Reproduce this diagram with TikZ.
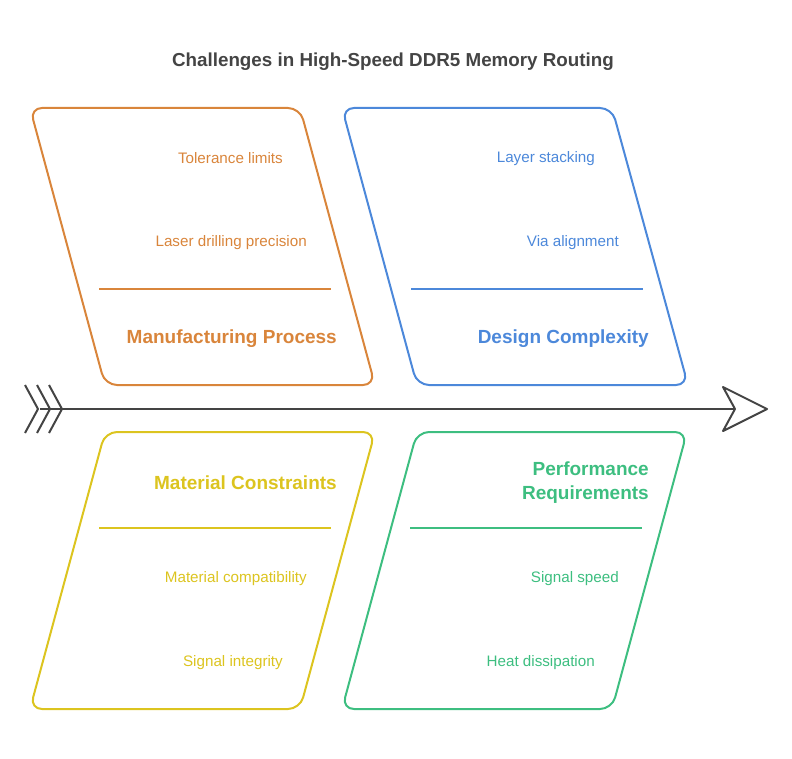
\documentclass[tikz,border=0pt]{standalone}
\usepackage{fontspec}
\setmainfont{Liberation Sans}
\usetikzlibrary{arrows.meta}
\definecolor{mfgcol}{HTML}{D9853B}
\definecolor{descol}{HTML}{4C88DA}
\definecolor{matcol}{HTML}{DCC41F}
\definecolor{perfcol}{HTML}{3DBE80}
\definecolor{spinecol}{HTML}{444444}

\begin{document}
\begin{tikzpicture}[x=1pt,y=-1pt,line join=round,
  every node/.style={font=\fontsize{15.2}{18}\selectfont},
  frame/.style={line width=2pt,rounded corners=12pt},
  rule/.style={line width=1.8pt},
  item/.style={anchor=east,inner sep=0pt,yshift=-1.5pt},
  head/.style={item,align=right,font=\fontsize{19}{24}\selectfont\bfseries}]
  \useasboundingbox (0,0) rectangle (792,759);

  \node[font=\fontsize{18.8}{22}\selectfont\bfseries,text=spinecol] (title) at (393,62)
    {Challenges in High-Speed DDR5 Memory Routing};

  % spine
  \coordinate (tail) at (40,409);
  \coordinate (tip) at (735,409);
  \draw[spinecol,line width=2pt] (tail) -- (tip);
  \draw[spinecol,line width=2pt] (tip) -- (723,387) -- (767,409) -- (723,431) -- cycle;
  \foreach \dx in {0,12,24}
    \draw[spinecol,line width=2pt] (25+\dx,385) -- (38+\dx,409) -- (25+\dx,433);

  % manufacturing
  \draw[frame,mfgcol] (30,108) -- (300,108) -- (375,385) -- (105,385) -- cycle;
  \draw[rule,mfgcol] (99,289) -- (331,289);
  \node[item,text=mfgcol] (tol) at (283,157) {Tolerance limits};
  \node[item,text=mfgcol] (laser) at (307,241) {Laser drilling precision};
  \node[head,text=mfgcol] (mfg) at (337,337) {Manufacturing Process};

  % design
  \draw[frame,descol] (342,108) -- (612,108) -- (688,385) -- (417,385) -- cycle;
  \draw[rule,descol] (411,289) -- (643,289);
  \node[item,text=descol] (layer) at (595,157) {Layer stacking};
  \node[item,text=descol] (via) at (619,241) {Via alignment};
  \node[head,text=descol] (design) at (649,337) {Design Complexity};

  % material
  \draw[frame,matcol] (105,432) -- (375,432) -- (300,709) -- (30,709) -- cycle;
  \draw[rule,matcol] (99,528) -- (331,528);
  \node[head,text=matcol] (mat) at (337,481) {Material Constraints};
  \node[item,text=matcol] (compat) at (307,577) {Material compatibility};
  \node[item,text=matcol] (integ) at (283,661) {Signal integrity};

  % performance
  \draw[frame,perfcol] (417,432) -- (687,432) -- (612,709) -- (342,709) -- cycle;
  \draw[rule,perfcol] (410,528) -- (642,528);
  \node[head,text=perfcol] (perf) at (649,481) {Performance\\Requirements};
  \node[item,text=perfcol] (speed) at (619,577) {Signal speed};
  \node[item,text=perfcol] (heat) at (595,661) {Heat dissipation};
\end{tikzpicture}
\end{document}
